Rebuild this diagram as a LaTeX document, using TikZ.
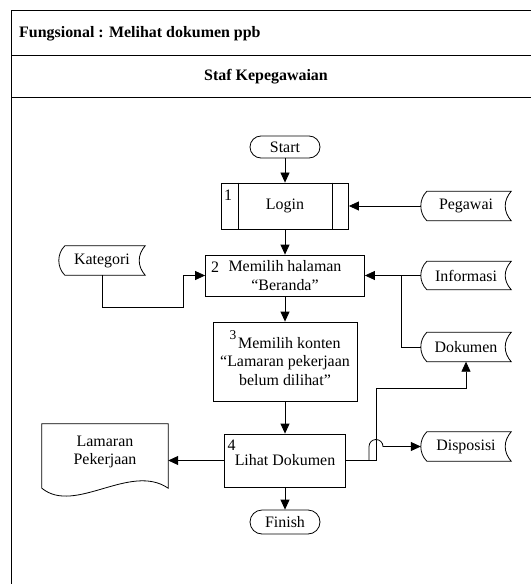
\documentclass[tikz,border=0pt]{standalone}
\usepackage{fontspec}
\setmainfont{Liberation Serif}
\usetikzlibrary{arrows.meta,calc}
\begin{document}
\begin{tikzpicture}[x=1bp,y=-1bp,
  every node/.style={font=\fontsize{16}{18.5}\selectfont},
  ln/.style={line width=0.8bp},
  arr/.style={ln,-{Triangle[length=10bp,width=9bp]}},
  term/.style={draw,ln,rectangle,rounded corners=11bp,minimum width=70bp,minimum height=22bp,inner sep=0pt},
  proc/.style={draw,ln,rectangle,inner sep=0pt,align=center},
  sd/.style={minimum width=90bp,minimum height=29bp,inner sep=0pt},
  lbl/.style={inner sep=0pt},
  hdr/.style={font=\bfseries\fontsize{16}{18.5}\selectfont,inner sep=0pt}
]
\useasboundingbox (0,0) rectangle (531,584);
% frame
\draw[line width=1bp] (11,584) -- (11,11) -- (531,11);
\draw[line width=1bp] (11,56) -- (531,56);
\draw[line width=1bp] (11,98) -- (531,98);
\node[hdr,anchor=west] (title) at (19,34) {Fungsional : Melihat dokumen ppb};
\node[hdr] (lane) at (266,77) {Staf Kepegawaian};

% main column
\node[term] (start) at (285,147) {Start};
\node[proc,minimum width=127bp,minimum height=46bp] (login) at (285,206) {Login};
\draw[ln] ([xshift=17bp]login.north west) -- ([xshift=17bp]login.south west);
\draw[ln] ([xshift=-17bp]login.north east) -- ([xshift=-17bp]login.south east);
\node[lbl] (n1) at (228,195) {1};

\node[proc,minimum width=159bp,minimum height=41bp] (mem) at (285,275.5) {Memilih halaman\\“Beranda”};
\node[lbl] (n2) at (215,267.5) {2};

\node[proc,minimum width=144bp,minimum height=79bp] (b3) at (285,361.5) {\smash{\raisebox{9bp}{\fontsize{13.5}{13.5}\selectfont 3}}\hspace{2bp}Memilih konten\\“Lamaran pekerjaan\\belum dilihat”};

\node[proc,minimum width=121bp,minimum height=53bp] (b4) at (285,460.5) {Lihat Dokumen};
\node[lbl] (n4) at (231.5,445) {4};

\node[term,minimum height=24bp,rounded corners=12bp] (fin) at (285,522) {Finish};

% stored data
\node[sd] (peg) at (466,206) {Pegawai};
\node[sd,minimum width=86bp] (kat) at (102,260.5) {Kategori};
\node[sd,minimum height=28bp] (inf) at (466,275.5) {Informasi};
\node[sd] (dok) at (466,347) {Dokumen};
\node[sd] (dis) at (466,446.5) {Disposisi};
\foreach \n in {peg,kat,inf,dok,dis}{
  \draw[ln] ([xshift=6bp]\n.north west) -- (\n.north east)
    .. controls ($(\n.north east)+(-8,9)$) and ($(\n.south east)+(-8,-9)$) .. (\n.south east)
    -- ([xshift=6bp]\n.south west)
    .. controls ($(\n.south west)+(-2,-8)$) and ($(\n.north west)+(-2,8)$) .. ([xshift=6bp]\n.north west) -- cycle;
}

% document
\node[minimum width=126bp,minimum height=64bp,inner sep=0pt] (lp) at (105,456) {};
\draw[ln] (lp.north west) -- (lp.north east) -- (lp.south east)
  .. controls ($(lp.south east)+(-38,-26)$) and ($(lp.south west)+(33,27)$) .. (lp.south west) -- cycle;
\node[lbl,align=center] (lptext) at (105,452) {Lamaran\\Pekerjaan};

% connectors
\draw[arr] (start) -- (login);
\draw[arr] (peg.west) -- (login.east);
\draw[arr] (login) -- (mem);
\coordinate (katc) at (183,307);
\draw[arr] (kat.south) |- (katc) |- (mem.west);
\draw[arr] (inf.west) -- (mem.east);
\coordinate (jn) at (401,275.5);
\draw[ln] (dok.west) -| (jn);
\draw[arr] (mem) -- (b3);
\draw[arr] (b3) -- (b4);
\draw[arr] (b4.west) -- (b4.west -| lp.east);
\draw[arr] (b4) -- (fin);
\coordinate (dv) at (376,388);
\draw[arr] (b4.east) -| (dv) -| (dok.south);
\coordinate (hp) at (369,446.5);
\draw[arr] (b4.east) -| (hp) arc[start angle=180,end angle=0,radius=7bp] -- (dis.west);
\end{tikzpicture}
\end{document}
